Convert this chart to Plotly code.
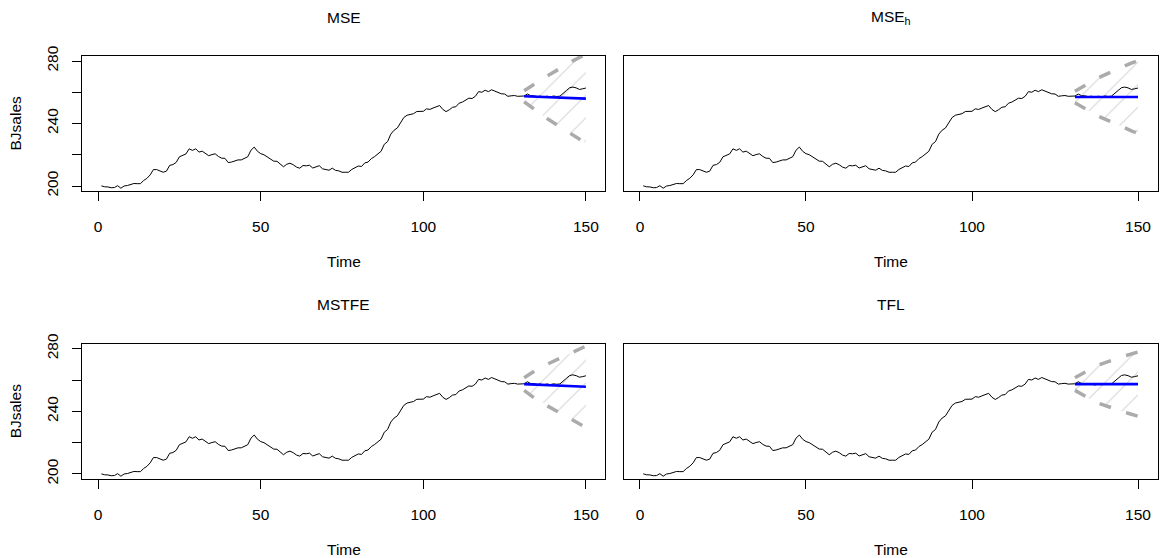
import plotly.graph_objects as go

# BJsales series (Box & Jenkins sales data), t = 1..150
time = list(range(1, 151))
bjsales = [
    200.1, 199.5, 199.4, 198.9, 199.0, 200.2, 198.6, 200.0, 200.3, 201.2,
    201.6, 201.5, 201.5, 203.5, 204.9, 207.1, 210.5, 210.5, 209.8, 208.8,
    209.5, 213.2, 213.7, 215.1, 218.7, 219.8, 220.5, 223.8, 222.8, 223.8,
    221.7, 222.3, 220.8, 219.4, 220.1, 220.6, 218.9, 217.8, 217.7, 215.0,
    215.3, 215.9, 216.7, 216.7, 217.7, 218.7, 222.9, 224.9, 222.2, 220.7,
    220.0, 218.7, 217.0, 215.9, 215.8, 214.1, 212.3, 213.9, 214.6, 213.6,
    212.1, 211.4, 213.1, 212.9, 213.3, 211.5, 212.3, 213.0, 211.0, 210.7,
    210.1, 211.4, 210.0, 209.7, 208.8, 208.8, 208.8, 210.6, 211.9, 212.8,
    212.5, 214.8, 215.3, 217.5, 218.8, 220.7, 222.2, 226.7, 228.4, 233.2,
    235.7, 237.1, 240.6, 243.8, 245.3, 246.0, 246.3, 247.7, 247.6, 247.8,
    249.4, 249.0, 249.9, 250.5, 251.5, 249.0, 247.6, 248.8, 250.4, 250.7,
    253.0, 253.7, 255.0, 256.2, 256.0, 257.4, 260.4, 260.0, 261.3, 260.4,
    261.6, 260.8, 259.8, 259.0, 258.9, 257.4, 257.7, 257.9, 257.4, 257.3,
    257.6, 258.9, 257.8, 257.7, 257.2, 257.5, 256.8, 257.5, 257.0, 257.6,
    257.3, 257.5, 259.6, 261.1, 262.9, 263.3, 262.8, 261.8, 262.2, 262.7,
]

# forecast horizon t = 131..150
h_time = list(range(131, 151))

panel_titles = ["MSE", "MSE<sub>h</sub>", "MSTFE", "TFL"]

fc_mse = [257.4, 257.3, 257.2, 257.2, 257.1, 257.0, 256.9, 256.8, 256.7, 256.7,
          256.6, 256.5, 256.4, 256.4, 256.3, 256.2, 256.1, 256.0, 256.0, 255.9]
hi_mse = [260.9, 262.3, 263.7, 265.2, 266.5, 267.8, 269.1, 270.3, 271.5, 272.8,
          274.0, 275.2, 276.4, 277.7, 278.9, 280.1, 281.2, 282.3, 283.5, 284.5]
lo_mse = [253.9, 252.3, 250.7, 249.2, 247.7, 246.2, 244.7, 243.3, 241.9, 240.6,
          239.2, 237.8, 236.4, 235.1, 233.7, 232.3, 231.0, 229.7, 228.5, 227.3]

fc_mseh = [257.0, 257.0, 257.0, 257.0, 257.0, 257.0, 257.0, 257.0, 257.0, 257.0,
           257.0, 257.0, 257.0, 257.0, 257.0, 257.0, 257.0, 257.0, 257.0, 257.0]
hi_mseh = [260.7, 262.0, 263.3, 264.4, 265.6, 266.8, 268.0, 269.2, 270.2, 271.2,
           272.2, 273.1, 274.0, 275.0, 276.0, 276.9, 277.8, 278.7, 279.5, 280.3]
lo_mseh = [253.3, 252.0, 250.7, 249.6, 248.4, 247.2, 246.0, 244.8, 243.8, 242.8,
           241.8, 240.9, 240.0, 239.0, 238.0, 237.1, 236.2, 235.3, 234.5, 233.7]

fc_mstfe = [257.4, 257.3, 257.2, 257.1, 257.0, 257.0, 256.9, 256.8, 256.7, 256.6,
            256.5, 256.4, 256.3, 256.2, 256.1, 256.0, 255.9, 255.9, 255.8, 255.7]
hi_mstfe = [261.4, 262.9, 264.3, 265.6, 266.8, 268.0, 269.0, 270.0, 270.9, 271.8,
            272.7, 273.7, 274.7, 275.7, 276.7, 277.7, 278.7, 279.8, 280.8, 281.7]
lo_mstfe = [253.4, 251.7, 250.1, 248.6, 247.2, 246.0, 244.8, 243.6, 242.5, 241.4,
            240.3, 239.1, 237.9, 236.7, 235.5, 234.3, 233.1, 232.0, 230.8, 229.7]

fc_tfl = [257.4, 257.4, 257.4, 257.4, 257.4, 257.4, 257.4, 257.4, 257.4, 257.4,
          257.4, 257.4, 257.4, 257.4, 257.4, 257.4, 257.4, 257.4, 257.4, 257.4]
hi_tfl = [261.4, 262.7, 264.0, 265.3, 266.5, 267.6, 268.6, 269.5, 270.3, 271.1,
          271.9, 272.6, 273.3, 274.0, 274.7, 275.4, 276.0, 276.7, 277.3, 277.9]
lo_tfl = [253.4, 252.1, 250.8, 249.5, 248.3, 247.2, 246.2, 245.3, 244.5, 243.7,
          242.9, 242.2, 241.5, 240.8, 240.1, 239.4, 238.8, 238.1, 237.5, 236.9]

forecasts = [
    (fc_mse, lo_mse, hi_mse),
    (fc_mseh, lo_mseh, hi_mseh),
    (fc_mstfe, lo_mstfe, hi_mstfe),
    (fc_tfl, lo_tfl, hi_tfl),
]

x_ticks = [0, 50, 100, 150]
y_ticks = [200, 240, 280]          # labelled ticks
y_minor_ticks = [220, 260]         # unlabelled ticks in between

W, H = 1161, 558
FONT = "Liberation Sans, Arial, sans-serif"
FS = 15.5

# plot-region boxes in pixels: (left, right, top, bottom)
boxes = [
    (82.0, 605.3, 56.0, 191.0),
    (623.5, 1157.8, 56.0, 191.0),
    (82.0, 605.3, 343.7, 479.0),
    (623.5, 1157.8, 343.7, 479.0),
]

fig = go.Figure()
layout = {}
annotations = []

for i, ((fc, lo, hi), title, box) in enumerate(zip(forecasts, panel_titles, boxes)):
    n = i + 1
    xa = "x" if n == 1 else f"x{n}"
    ya = "y" if n == 1 else f"y{n}"
    left, right, top, bottom = box

    # hatched prediction region
    fig.add_trace(go.Scatter(
        x=h_time + h_time[::-1], y=hi + lo[::-1],
        xaxis=xa, yaxis=ya, mode="lines", fill="toself",
        line=dict(width=0, color="rgba(0,0,0,0)"),
        fillcolor="rgba(0,0,0,0)",
        fillpattern=dict(shape="/", size=16, solidity=0.07,
                         fgcolor="#D6D6D6", fillmode="replace"),
        hoverinfo="skip", showlegend=False,
    ))
    # observed series
    fig.add_trace(go.Scatter(
        x=time, y=bjsales, xaxis=xa, yaxis=ya, mode="lines",
        line=dict(color="black", width=1), showlegend=False,
    ))
    # point forecast
    fig.add_trace(go.Scatter(
        x=h_time, y=fc, xaxis=xa, yaxis=ya, mode="lines",
        line=dict(color="#0000FF", width=2.6), showlegend=False,
    ))
    # interval bounds
    for bound in (hi, lo):
        fig.add_trace(go.Scatter(
            x=h_time, y=bound, xaxis=xa, yaxis=ya, mode="lines",
            line=dict(color="#ABABAB", width=3.5, dash="12px,16px"),
            showlegend=False,
        ))

    xdom = [left / W, right / W]
    ydom = [1 - bottom / H, 1 - top / H]
    left_col = n in (1, 3)

    layout["xaxis" if n == 1 else f"xaxis{n}"] = dict(
        domain=xdom, anchor=ya, range=[-4.96, 155.96],
        tickmode="array", tickvals=x_ticks, ticktext=[str(v) for v in x_ticks],
        ticks="outside", ticklen=9, tickwidth=1, tickcolor="black",
        showline=True, linecolor="black", linewidth=1, mirror=True,
        showgrid=False, zeroline=False, automargin=False,
        ticklabelstandoff=12,
        tickfont=dict(family=FONT, size=FS, color="black"),
    )
    yaxis = dict(
        domain=ydom, anchor=xa, range=[196.8, 283.2],
        showline=True, linecolor="black", linewidth=1, mirror=True,
        showgrid=False, zeroline=False, automargin=False,
    )
    if left_col:
        yaxis.update(
            tickmode="array", tickvals=y_ticks,
            ticktext=[str(v) for v in y_ticks],
            ticks="outside", ticklen=9, tickwidth=1, tickcolor="black",
            showticklabels=True, tickangle=-90, ticklabelstandoff=8,
            tickfont=dict(family=FONT, size=FS, color="black"),
            minor=dict(tickmode="array", tickvals=y_minor_ticks,
                       ticks="outside", ticklen=9, tickwidth=1,
                       tickcolor="black", showgrid=False),
        )
    else:
        yaxis.update(ticks="", showticklabels=False)
    layout["yaxis" if n == 1 else f"yaxis{n}"] = yaxis

    cx = (left + right) / 2 / W
    annotations.append(dict(
        text=title, x=cx, y=1 - (top - 39) / H, xref="paper", yref="paper",
        xanchor="center", yanchor="middle", showarrow=False,
        font=dict(family=FONT, size=FS, color="black"),
    ))
    annotations.append(dict(
        text="Time", x=cx, y=1 - (bottom + 70) / H, xref="paper", yref="paper",
        xanchor="center", yanchor="middle", showarrow=False,
        font=dict(family=FONT, size=FS, color="black"),
    ))
    if left_col:
        annotations.append(dict(
            text="BJsales", x=15 / W, y=1 - (top + bottom) / 2 / H,
            xref="paper", yref="paper", xanchor="center", yanchor="middle",
            textangle=-90, showarrow=False,
            font=dict(family=FONT, size=FS, color="black"),
        ))

fig.update_layout(
    width=W, height=H,
    margin=dict(l=0, r=0, t=0, b=0, pad=0),
    paper_bgcolor="white", plot_bgcolor="white",
    annotations=annotations,
    **layout,
)

fig.write_html("out.html")
